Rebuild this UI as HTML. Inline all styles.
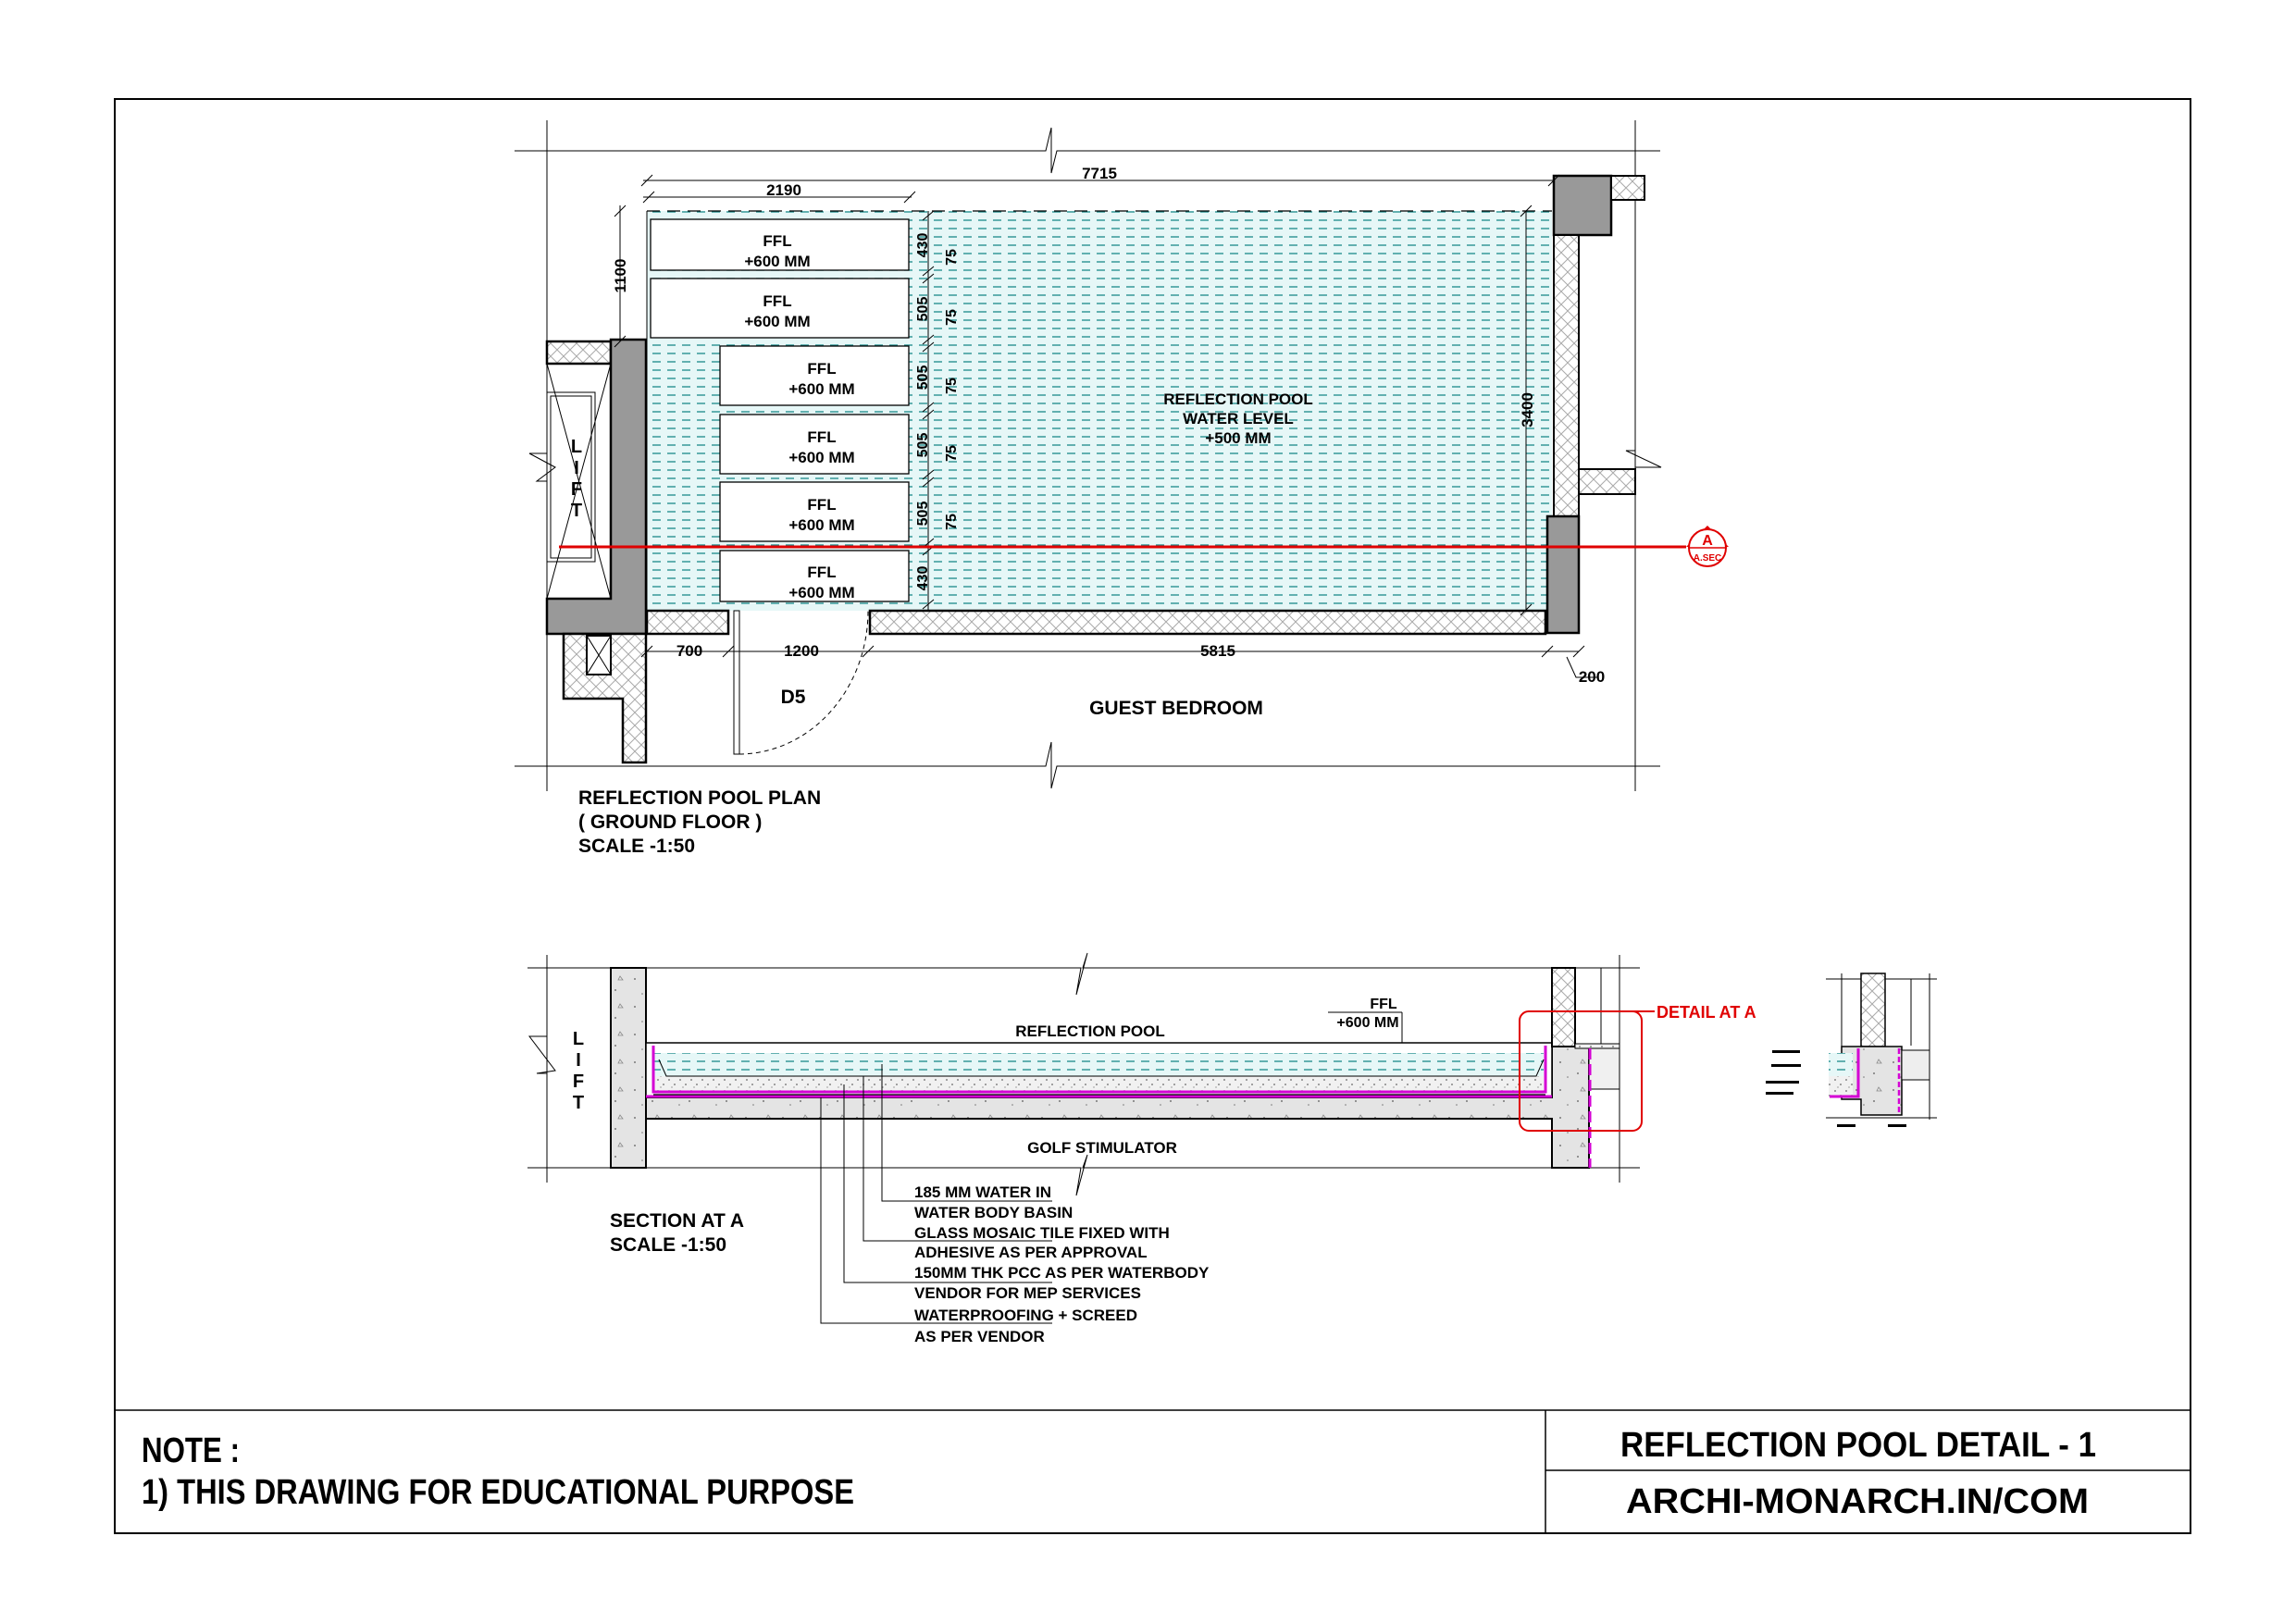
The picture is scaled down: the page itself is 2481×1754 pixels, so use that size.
<!DOCTYPE html>
<html><head><meta charset="utf-8"><style>html,body{margin:0;padding:0;background:#fff}svg{display:block}text{font-family:"Liberation Sans",sans-serif;fill:#000}</style></head>
<body>
<svg width="2481" height="1754" viewBox="0 0 2481 1754" xmlns="http://www.w3.org/2000/svg">
<defs>
<pattern id="water" width="16" height="9" patternUnits="userSpaceOnUse"><rect width="16" height="9" fill="#e6f7f7"/><line x1="1" y1="4" x2="10" y2="4" stroke="#1a8a8a" stroke-width="1.3"/></pattern>
<pattern id="hatch" width="14" height="14" patternUnits="userSpaceOnUse"><rect width="14" height="14" fill="#fff"/><path d="M0 0L14 14M14 0L0 14" stroke="#aaa" stroke-width="1"/></pattern>
<pattern id="conc" width="40" height="30" patternUnits="userSpaceOnUse"><rect width="40" height="30" fill="#e4e4e4"/><circle cx="6" cy="8" r="1" fill="#777"/><circle cx="25" cy="20" r="1" fill="#777"/><path d="M30 5l3 4h-5z" fill="none" stroke="#888" stroke-width="0.8"/><circle cx="14" cy="24" r="0.8" fill="#777"/></pattern>
<pattern id="pcc" width="12" height="12" patternUnits="userSpaceOnUse"><rect width="12" height="12" fill="#f1f1f1"/><circle cx="3" cy="3" r="0.9" fill="#666"/><circle cx="9" cy="8" r="0.9" fill="#666"/><circle cx="6" cy="11" r="0.6" fill="#666"/></pattern>
</defs>
<g fill="none" stroke="#000">
<!-- border -->
<rect x="124" y="107" width="2243" height="1550" stroke-width="2"/>
<line x1="124" y1="1524" x2="2367" y2="1524" stroke-width="1.5"/>
<line x1="1670" y1="1524" x2="1670" y2="1657" stroke-width="1.5"/>
<line x1="1670" y1="1589" x2="2367" y2="1589" stroke-width="1.5"/>

<!-- PLAN extension lines -->
<line x1="591" y1="130" x2="591" y2="855" stroke-width="1"/>
<line x1="1767" y1="130" x2="1767" y2="855" stroke-width="1"/>
<polyline points="556,163 1130,163 1136,138 1136,187 1142,163 1794,163" stroke-width="1"/>
<polyline points="556,828 1130,828 1136,802 1136,852 1142,828 1794,828" stroke-width="1"/>
</g>

<!-- pool water -->
<rect x="699" y="228" width="978" height="432" fill="url(#water)"/>
<line x1="699" y1="228" x2="1677" y2="228" stroke="#000" stroke-width="1.2" stroke-dasharray="14,8"/>
<line x1="699" y1="228" x2="699" y2="660" stroke="#000" stroke-width="1"/>

<!-- FFL boxes -->
<g fill="#fff" stroke="#000" stroke-width="1.3">
<rect x="703" y="237" width="279" height="55"/>
<rect x="703" y="301" width="279" height="64"/>
<rect x="778" y="374" width="204" height="64"/>
<rect x="778" y="448" width="204" height="64"/>
<rect x="778" y="521" width="204" height="64"/>
<rect x="778" y="595" width="204" height="55"/>
</g>
<g font-size="17" font-weight="bold" text-anchor="middle">
<text x="840" y="266">FFL</text><text x="840" y="288">+600 MM</text>
<text x="840" y="331">FFL</text><text x="840" y="353">+600 MM</text>
<text x="888" y="404">FFL</text><text x="888" y="426">+600 MM</text>
<text x="888" y="478">FFL</text><text x="888" y="500">+600 MM</text>
<text x="888" y="551">FFL</text><text x="888" y="573">+600 MM</text>
<text x="888" y="624">FFL</text><text x="888" y="646">+600 MM</text>
</g>
<!-- vertical dims beside boxes -->
<g stroke="#000" stroke-width="1">
<line x1="1003" y1="228" x2="1003" y2="660"/>
<path d="M997 238l12-10M997 298l12-10M997 306l12-10M997 372l12-10M997 380l12-10M997 445l12-10M997 453l12-10M997 518l12-10M997 526l12-10M997 592l12-10M997 600l12-10M997 658l12-10"/>
</g>
<g font-size="16" font-weight="bold" text-anchor="middle">
<text transform="translate(1002,265) rotate(-90)">430</text>
<text transform="translate(1002,334) rotate(-90)">505</text>
<text transform="translate(1002,408) rotate(-90)">505</text>
<text transform="translate(1002,481) rotate(-90)">505</text>
<text transform="translate(1002,555) rotate(-90)">505</text>
<text transform="translate(1002,625) rotate(-90)">430</text>
<text transform="translate(1033,278) rotate(-90)">75</text>
<text transform="translate(1033,343) rotate(-90)">75</text>
<text transform="translate(1033,417) rotate(-90)">75</text>
<text transform="translate(1033,490) rotate(-90)">75</text>
<text transform="translate(1033,564) rotate(-90)">75</text>
</g>

<!-- walls left -->
<rect x="591" y="369" width="69" height="24" fill="url(#hatch)" stroke="#000" stroke-width="2.5"/>
<path d="M660 367H698V685H591V647H660Z" fill="#999" stroke="#000" stroke-width="2.5"/>
<g fill="none" stroke="#000" stroke-width="1">
<rect x="591" y="424" width="52" height="183"/>
<rect x="595" y="428" width="44" height="175"/>
<path d="M591 393L660 647M660 393L591 647"/>
<polyline points="591,490 572,490 600,505 580,520 591,520"/>
</g>
<g font-size="20" font-weight="bold" text-anchor="middle"><text x="623" y="489">L</text><text x="623" y="512">I</text><text x="623" y="535">F</text><text x="623" y="558">T</text></g>
<path d="M609 685H698V824H673V755H609Z" fill="url(#hatch)" stroke="#000" stroke-width="2.5"/>
<rect x="634" y="687" width="26" height="42" fill="#fff" stroke="#000" stroke-width="2"/>
<path d="M634 687L660 729M660 687L634 729" stroke="#000" stroke-width="1"/>

<!-- bottom wall -->
<rect x="699" y="660" width="88" height="25" fill="url(#hatch)" stroke="#000" stroke-width="2.5"/>
<rect x="940" y="660" width="730" height="25" fill="url(#hatch)" stroke="#000" stroke-width="2.5"/>
<!-- door -->
<rect x="793" y="660" width="6" height="155" fill="#fff" stroke="#000" stroke-width="1"/>
<path d="M799 815 A 140 155 0 0 0 938 660" fill="none" stroke="#000" stroke-width="1" stroke-dasharray="5,4"/>

<!-- right walls -->
<rect x="1679" y="190" width="62" height="64" fill="#999" stroke="#000" stroke-width="2.5"/>
<rect x="1741" y="190" width="36" height="26" fill="url(#hatch)" stroke="#000" stroke-width="2"/>
<rect x="1679" y="254" width="27" height="304" fill="url(#hatch)" stroke="#000" stroke-width="2"/>
<rect x="1706" y="507" width="61" height="27" fill="url(#hatch)" stroke="#000" stroke-width="2"/>
<polyline points="1767,487 1757,487 1795,505 1767,505" fill="none" stroke="#000" stroke-width="1"/>
<rect x="1672" y="558" width="34" height="126" fill="#999" stroke="#000" stroke-width="2.5"/>

<!-- dims plan -->
<g stroke="#000" stroke-width="1" fill="none">
<line x1="695" y1="195" x2="1680" y2="195"/>
<path d="M693 201l12-12M1673 201l12-12"/>
<line x1="695" y1="213" x2="985" y2="213"/>
<path d="M695 219l12-12M977 219l12-12"/>
<line x1="670" y1="222" x2="670" y2="369"/>
<path d="M664 234l12-12M664 375l12-12"/>
<line x1="1649" y1="228" x2="1649" y2="659"/>
<path d="M1643 234l12-12M1643 665l12-12"/>
<line x1="699" y1="704" x2="1706" y2="704"/>
<path d="M693 710l12-12M781 710l12-12M932 710l12-12M1666 710l12-12M1700 710l12-12"/>
<path d="M1693 710l10 22h24"/>
</g>
<g font-size="17" font-weight="bold" text-anchor="middle">
<text x="1188" y="193">7715</text>
<text x="847" y="211">2190</text>
<text transform="translate(676,298) rotate(-90)">1100</text>
<text transform="translate(1656,443) rotate(-90)">3400</text>
<text x="745" y="709">700</text>
<text x="866" y="709">1200</text>
<text x="1316" y="709">5815</text>
<text x="1720" y="737">200</text>
<text x="1338" y="437">REFLECTION POOL</text>
<text x="1338" y="458">WATER LEVEL</text>
<text x="1338" y="479">+500 MM</text>
<text x="1271" y="772" font-size="21">GUEST BEDROOM</text>
<text x="857" y="760" font-size="21">D5</text>
</g>
<!-- red section line -->
<line x1="604" y1="591" x2="1822" y2="591" stroke="#e00000" stroke-width="3"/>
<path d="M1822 591L1845 568L1868 591Z" fill="#e00000"/>
<circle cx="1845" cy="592" r="20" fill="#fff" stroke="#e00000" stroke-width="2"/>
<line x1="1825" y1="592" x2="1865" y2="592" stroke="#e00000" stroke-width="1.5"/>
<text x="1845" y="589" font-size="16" font-weight="bold" text-anchor="middle" style="fill:#e00000">A</text>
<text x="1845" y="606" font-size="10" font-weight="bold" text-anchor="middle" style="fill:#e00000">A.SEC</text>

<g font-size="21" font-weight="bold">
<text x="625" y="869">REFLECTION POOL PLAN</text>
<text x="625" y="895">( GROUND FLOOR )</text>
<text x="625" y="921">SCALE -1:50</text>
</g>

<!-- SECTION -->
<g fill="none" stroke="#000" stroke-width="1">
<line x1="591" y1="1032" x2="591" y2="1278"/>
<line x1="1750" y1="1032" x2="1750" y2="1278"/>
<polyline points="570,1046 1168,1046 1163,1075 1175,1030 1170,1046 1772,1046"/>
<polyline points="570,1262 1168,1262 1163,1292 1175,1248 1170,1262 1772,1262"/>
<polyline points="591,1120 572,1120 600,1157 580,1160 591,1160"/>
</g>
<g font-size="20" font-weight="bold" text-anchor="middle"><text x="625" y="1129">L</text><text x="625" y="1152">I</text><text x="625" y="1175">F</text><text x="625" y="1198">T</text></g>
<!-- left column -->
<rect x="660" y="1046" width="38" height="216" fill="url(#conc)" stroke="#000" stroke-width="2"/>
<!-- structural slab -->
<path d="M698 1186H1677V1131H1717V1262H1677V1209H698Z" fill="url(#conc)" stroke="#000" stroke-width="2"/>
<!-- pool basin -->
<rect x="698" y="1127" width="979" height="59" fill="#fff" stroke="#000" stroke-width="1.5"/>
<rect x="706" y="1138" width="962" height="25" fill="url(#water)"/>
<path d="M706 1163H1668V1183H706Z" fill="url(#pcc)"/>
<path d="M706 1130V1180H1670V1130" fill="none" stroke="#d400d4" stroke-width="3"/>
<line x1="698" y1="1185" x2="1677" y2="1185" stroke="#d400d4" stroke-width="3"/>
<path d="M712 1145l8 18H1660l8-18" fill="none" stroke="#000" stroke-width="1"/>
<line x1="706" y1="1183" x2="1670" y2="1183" stroke="#000" stroke-width="1.2"/>
<!-- right wall above -->
<rect x="1677" y="1046" width="25" height="85" fill="url(#hatch)" stroke="#000" stroke-width="2"/>
<line x1="1730" y1="1046" x2="1730" y2="1131" stroke="#000" stroke-width="1"/>
<rect x="1702" y="1128" width="48" height="5" fill="url(#pcc)" stroke="#000" stroke-width="1"/>
<rect x="1717" y="1133" width="33" height="44" fill="#f0f0f0" stroke="#000" stroke-width="1"/>
<line x1="1718" y1="1133" x2="1718" y2="1262" stroke="#d400d4" stroke-width="3" stroke-dasharray="12,5"/>
<!-- red detail box -->
<rect x="1642" y="1093" width="132" height="129" rx="10" fill="none" stroke="#e00000" stroke-width="2"/>
<line x1="1720" y1="1093" x2="1788" y2="1093" stroke="#e00000" stroke-width="2"/>
<text x="1790" y="1100" font-size="18" font-weight="bold" style="fill:#e00000">DETAIL AT A</text>

<g font-size="17" font-weight="bold" text-anchor="middle">
<text x="1178" y="1120">REFLECTION POOL</text>
<text x="1191" y="1246">GOLF STIMULATOR</text>
</g>
<text x="1495" y="1090" font-size="16" font-weight="bold" text-anchor="middle">FFL</text>
<text x="1478" y="1110" font-size="16" font-weight="bold" text-anchor="middle">+600 MM</text>
<path d="M1435 1094H1515M1515 1094V1127" stroke="#000" stroke-width="1" fill="none"/>

<!-- leaders -->
<g stroke="#000" stroke-width="1" fill="none">
<path d="M953 1150V1298H1137"/>
<path d="M933 1163V1341H1137"/>
<path d="M912 1172V1386H1137"/>
<path d="M887 1186V1430H1137"/>
</g>
<g font-size="17" font-weight="bold">
<text x="988" y="1294">185 MM WATER IN</text>
<text x="988" y="1316">WATER BODY BASIN</text>
<text x="988" y="1338">GLASS MOSAIC TILE FIXED WITH</text>
<text x="988" y="1359">ADHESIVE AS PER APPROVAL</text>
<text x="988" y="1381">150MM THK PCC AS PER WATERBODY</text>
<text x="988" y="1403">VENDOR FOR MEP SERVICES</text>
<text x="988" y="1427">WATERPROOFING + SCREED</text>
<text x="988" y="1450">AS PER VENDOR</text>
</g>
<g font-size="21" font-weight="bold">
<text x="659" y="1326">SECTION AT A</text>
<text x="659" y="1352">SCALE -1:50</text>
</g>

<!-- small detail -->
<g stroke="#000" stroke-width="1" fill="none">
<line x1="1973" y1="1058" x2="2093" y2="1058"/>
<line x1="1990" y1="1052" x2="1990" y2="1180"/>
<line x1="2085" y1="1052" x2="2085" y2="1210"/>
<line x1="2065" y1="1058" x2="2065" y2="1130"/>
<line x1="1973" y1="1208" x2="2093" y2="1208"/>
</g>
<rect x="2011" y="1052" width="26" height="79" fill="url(#hatch)" stroke="#000" stroke-width="1.5"/>
<path d="M2011 1131H2055V1205H2011V1188H1990V1131Z" fill="url(#conc)" stroke="#000" stroke-width="1.5"/>
<rect x="1976" y="1138" width="26" height="25" fill="url(#water)"/>
<rect x="1976" y="1163" width="26" height="22" fill="url(#pcc)"/>
<path d="M2008 1133V1185H1977" stroke="#d400d4" stroke-width="3" fill="none"/>
<line x1="2052" y1="1133" x2="2052" y2="1205" stroke="#d400d4" stroke-width="2.5" stroke-dasharray="6,3"/>
<rect x="2055" y="1135" width="30" height="32" fill="#eee" stroke="#000" stroke-width="1"/>
<g fill="#000">
<rect x="1915" y="1135" width="30" height="3"/><rect x="1914" y="1150" width="32" height="3"/>
<rect x="1908" y="1168" width="36" height="3"/><rect x="1908" y="1180" width="30" height="3"/>
<rect x="1985" y="1215" width="20" height="3"/><rect x="2040" y="1215" width="20" height="3"/>
</g>
<g font-size="21" font-weight="bold" style="font-size:38px">
<text x="153" y="1580" textLength="106" lengthAdjust="spacingAndGlyphs">NOTE :</text>
<text x="153" y="1625" textLength="770" lengthAdjust="spacingAndGlyphs">1) THIS DRAWING FOR EDUCATIONAL PURPOSE</text>
<text x="1751" y="1574" textLength="514" lengthAdjust="spacingAndGlyphs">REFLECTION POOL DETAIL - 1</text>
<text x="1757" y="1635" textLength="500" lengthAdjust="spacingAndGlyphs">ARCHI-MONARCH.IN/COM</text>
</g>
</svg>
</body></html>
